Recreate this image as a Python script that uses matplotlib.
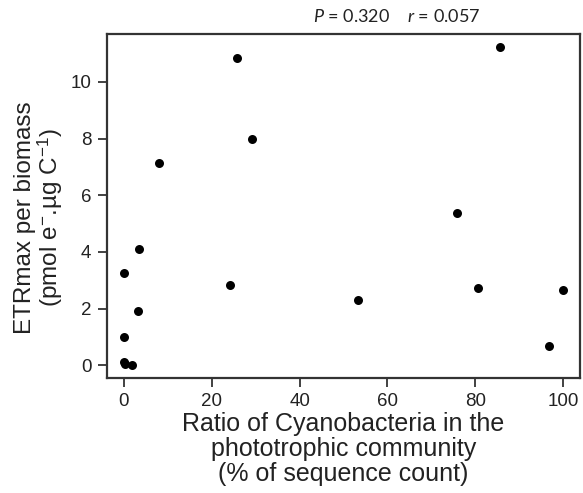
import matplotlib
matplotlib.use("Agg")
import matplotlib.pyplot as plt

# Data
cyano_pct = [25.8, 29.1, 8.0, 85.6, 75.8, 53.3, 80.6, 100.0, 96.8,
             3.4, 0.0, 3.3, 0.0, 0.0, 0.3, 1.8, 24.2]
etr_max = [10.83, 7.98, 7.15, 11.24, 5.36, 2.30, 2.72, 2.65, 0.66,
           4.09, 3.26, 1.92, 1.00, 0.12, 0.03, 0.02, 2.83]
x_ticks = [0, 20, 40, 60, 80, 100]
y_ticks = [0, 2, 4, 6, 8, 10]

plt.rcParams['font.family'] = ['Liberation Sans', 'DejaVu Sans']
plt.rcParams['mathtext.fontset'] = 'custom'
plt.rcParams['mathtext.rm'] = 'Lato'
plt.rcParams['mathtext.it'] = 'Lato:italic'

fig = plt.figure(figsize=(5.83, 4.93), dpi=100)
ax = fig.add_axes([0.183, 0.234, 0.812, 0.697])

ax.scatter(cyano_pct, etr_max, s=42, color='black', zorder=3, linewidths=0)

ax.set_xlim(-3.94, 103.9)
ax.set_ylim(-0.44, 11.69)
ax.set_xticks(x_ticks)
ax.set_yticks(y_ticks)
ax.tick_params(axis='both', direction='out', length=6.5, width=1.3,
               labelsize=13.5, color='#333333', labelcolor='#222222', pad=4.5)

for sp in ax.spines.values():
    sp.set_linewidth(1.6)
    sp.set_color('#333333')

ax.set_xlabel("Ratio of Cyanobacteria in the\nphototrophic community\n(% of sequence count)",
              fontsize=18, color='#222222', linespacing=1.04)
ax.xaxis.set_label_coords(0.5, -0.1)
ax.set_ylabel("ETRmax per biomass\n(pmol e$^{\\mathregular{-}}$.µg C$^{\\mathregular{-1}}$)",
              fontsize=17.5, color='#222222', linespacing=0.94)
ax.yaxis.set_label_coords(-0.089, 0.466)

fig.text(480/583, 1 - 17/493,
         "$P$ = 0.320    $r$ = 0.057", ha='right', va='center',
         fontsize=13, family='Lato', color='#222222')

fig.savefig("out.png", dpi=100)
